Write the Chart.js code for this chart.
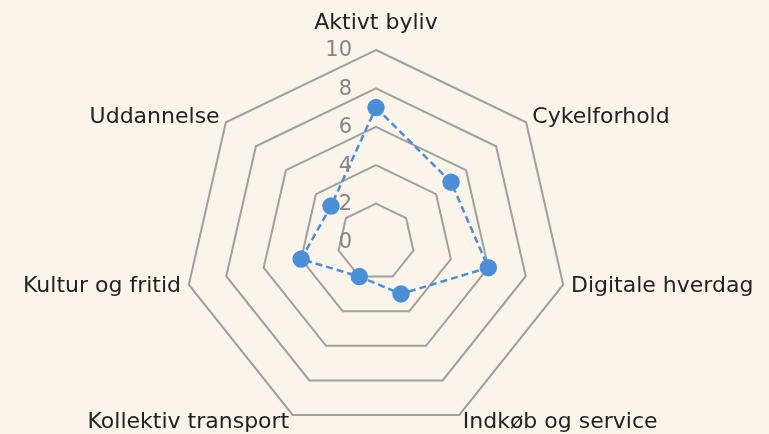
<!DOCTYPE html>
<html>
<head>
<meta charset="utf-8">
<script src="https://cdn.jsdelivr.net/npm/chart.js@4.4.1/dist/chart.umd.min.js"></script>
<style>
  html, body { margin: 0; padding: 0; background: #fbf4ea; }
  #wrap { width: 769px; height: 434px; }
</style>
</head>
<body>
<div id="wrap"><canvas id="radarChart"></canvas></div>
<script>
const categories = ['Aktivt byliv', 'Cykelforhold', 'Digitale hverdag', 'Indkøb og service',
    'Kollektiv transport', 'Kultur og fritid', 'Uddannelse'];
const scores = [7, 5, 6, 3, 2, 4, 3];
const tickValues = [0, 2, 4, 6, 8, 10];

const FONT = '"DejaVu Sans", sans-serif';

// Labels drawn by hand so the layout stays like the original
const labelPlugin = {
    id: 'radarLabels',
    afterDraw(chart) {
        const scale = chart.scales.r;
        const ctx = chart.ctx;
        ctx.save();

        // axis tick values, left of the top axis
        ctx.font = '21px ' + FONT;
        ctx.fillStyle = '#858585';
        ctx.textAlign = 'right';
        ctx.textBaseline = 'middle';
        tickValues.forEach(v => {
            const d = scale.getDistanceFromCenterForValue(v);
            ctx.fillText(String(v), scale.xCenter - 24, scale.yCenter - d + 1);
        });

        // category labels
        ctx.font = '22px ' + FONT;
        ctx.fillStyle = '#222222';
        categories.forEach((c, i) => {
            const p = scale.getPointPosition(i, scale.drawingArea + 8);
            const dx = p.x - scale.xCenter;
            ctx.textBaseline = 'middle';
            if (Math.abs(dx) < 2) {
                ctx.textAlign = 'center';
                ctx.fillText(c, p.x, scale.yCenter - scale.drawingArea - 27);
                return;
            }
            ctx.textAlign = dx > 0 ? 'left' : 'right';
            ctx.fillText(c, p.x, p.y);
        });
        ctx.restore();
    },
};

new Chart(document.getElementById('radarChart'), {
    type: 'radar',
    data: {
        labels: categories,
        datasets: [{
            data: scores,
            borderColor: '#4a8fd8',
            borderWidth: 2.5,
            borderDash: [7, 4],
            backgroundColor: 'transparent',
            fill: false,
            pointBackgroundColor: '#4a8fd8',
            pointBorderColor: '#4a8fd8',
            pointRadius: 7.5,
            pointHoverRadius: 7.5,
        }],
    },
    options: {
        responsive: true,
        maintainAspectRatio: false,
        animation: false,
        layout: { padding: { left: 0, right: 17, top: 50, bottom: 0 } },
        plugins: { legend: { display: false }, tooltip: { enabled: false } },
        scales: {
            r: {
                min: 0,
                max: 10,
                ticks: { display: false, stepSize: 2 },
                pointLabels: { display: false },
                angleLines: { display: false },
                grid: { color: '#a0a0a0', lineWidth: 2 },
            },
        },
    },
    plugins: [labelPlugin],
});
</script>
</body>
</html>
